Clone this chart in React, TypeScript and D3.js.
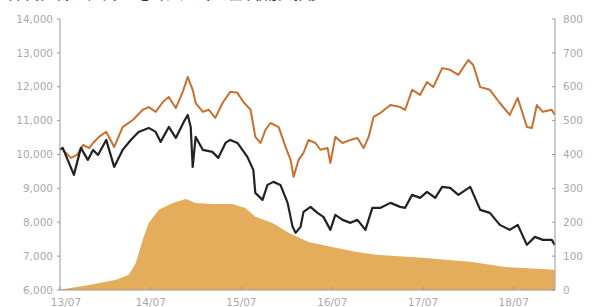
import React from 'react'
import * as d3 from 'd3'

// black line (left axis)
const blackDates = ['2013-07-01', '2013-07-12', '2013-08-26', '2013-09-23', '2013-10-21', '2013-11-11', '2013-12-01', '2014-01-03', '2014-02-04', '2014-03-10', '2014-04-12', '2014-05-13', '2014-06-23', '2014-07-21', '2014-08-10', '2014-09-12', '2014-10-10', '2014-11-11', '2014-11-27', '2014-12-09', '2014-12-17', '2014-12-29', '2015-01-27', '2015-03-06', '2015-03-30', '2015-04-28', '2015-05-17', '2015-06-15', '2015-07-25', '2015-08-18', '2015-08-26', '2015-09-24', '2015-10-14', '2015-11-07', '2015-12-05', '2016-01-03', '2016-01-23', '2016-02-04', '2016-02-24', '2016-03-07', '2016-04-04', '2016-05-02', '2016-05-26', '2016-06-23', '2016-07-13', '2016-08-11', '2016-09-12', '2016-10-10', '2016-11-11', '2016-12-09', '2017-01-11', '2017-02-20', '2017-03-31', '2017-04-20', '2017-05-18', '2017-06-19', '2017-07-17', '2017-08-19', '2017-09-16', '2017-10-18', '2017-11-20', '2018-01-07', '2018-02-16', '2018-03-27', '2018-05-06', '2018-06-15', '2018-07-17', '2018-08-23', '2018-09-24', '2018-10-26', '2018-12-01', '2018-12-13']
const blackValues = [10150, 10195, 9398, 10195, 9840, 10135, 9988, 10430, 9634, 10135, 10430, 10667, 10785, 10667, 10372, 10814, 10490, 10962, 11168, 10814, 9634, 10519, 10135, 10077, 9900, 10342, 10430, 10342, 9929, 9545, 8867, 8660, 9103, 9192, 9103, 8572, 7864, 7687, 7864, 8307, 8454, 8277, 8159, 7775, 8218, 8070, 7982, 8070, 7775, 8425, 8425, 8572, 8454, 8425, 8808, 8720, 8897, 8720, 9044, 9015, 8808, 9044, 8366, 8277, 7923, 7775, 7923, 7333, 7569, 7480, 7480, 7333]

// orange line (right axis)
const orangeDates = ['2013-07-12', '2013-08-14', '2013-09-08', '2013-10-02', '2013-10-26', '2013-11-15', '2013-12-05', '2014-01-03', '2014-02-04', '2014-03-10', '2014-04-20', '2014-05-30', '2014-06-23', '2014-07-21', '2014-08-19', '2014-09-12', '2014-10-10', '2014-11-07', '2014-11-27', '2014-12-17', '2014-12-29', '2015-01-27', '2015-02-20', '2015-03-18', '2015-04-16', '2015-05-17', '2015-06-15', '2015-07-09', '2015-08-07', '2015-08-26', '2015-09-16', '2015-10-06', '2015-10-26', '2015-11-28', '2015-12-26', '2016-01-15', '2016-01-27', '2016-02-16', '2016-03-07', '2016-03-27', '2016-04-24', '2016-05-14', '2016-06-12', '2016-06-23', '2016-07-13', '2016-08-11', '2016-09-12', '2016-10-10', '2016-11-04', '2016-11-24', '2016-12-14', '2017-01-11', '2017-02-20', '2017-03-31', '2017-04-20', '2017-05-18', '2017-06-19', '2017-07-17', '2017-08-11', '2017-09-16', '2017-10-18', '2017-11-20', '2017-12-30', '2018-01-19', '2018-02-16', '2018-03-27', '2018-05-06', '2018-06-15', '2018-07-17', '2018-08-23', '2018-09-12', '2018-10-02', '2018-10-26', '2018-12-01', '2018-12-13']
const orangeValues = [414, 390, 399, 428, 419, 437, 452, 467, 422, 481, 502, 532, 540, 526, 555, 570, 537, 585, 629, 591, 552, 526, 532, 508, 552, 585, 582, 555, 532, 452, 434, 473, 493, 481, 422, 384, 334, 384, 405, 443, 434, 414, 419, 375, 452, 434, 443, 449, 419, 452, 511, 523, 546, 540, 532, 591, 576, 614, 599, 655, 650, 635, 679, 664, 599, 591, 552, 517, 567, 481, 478, 546, 526, 532, 517]

// filled area (right axis)
const areaDates = ['2013-07-01', '2013-07-12', '2013-10-26', '2014-02-12', '2014-04-04', '2014-05-02', '2014-05-30', '2014-06-23', '2014-08-03', '2014-09-28', '2014-11-19', '2014-12-29', '2015-03-06', '2015-05-25', '2015-07-17', '2015-08-26', '2015-11-03', '2016-01-07', '2016-03-27', '2016-07-01', '2016-10-02', '2016-12-22', '2017-06-28', '2018-01-15', '2018-05-26', '2018-12-13']
const areaValues = [0, 2, 15, 30, 45, 80, 148, 198, 237, 257, 269, 257, 254, 254, 242, 216, 198, 169, 142, 127, 113, 104, 95, 83, 68, 60]

const xTickDates = ['2013-07-01', '2014-07-01', '2015-07-01', '2016-07-01', '2017-07-01', '2018-07-01']
const xTickLabels = ['13/07', '14/07', '15/07', '16/07', '17/07', '18/07']
const leftTicks = [6000, 7000, 8000, 9000, 10000, 11000, 12000, 13000, 14000]
const rightTicks = [0, 100, 200, 300, 400, 500, 600, 700, 800]

const title = '日本株式インデックスと当ファンドの基準価額の推移'

const W = 599
const H = 307
const parse = d3.timeParse('%Y-%m-%d')

const App = () => {
    const x = d3.scaleTime()
        .domain([parse('2013-07-01'), parse('2018-12-14')])
        .range([60, 555])
    const yL = d3.scaleLinear().domain([6000, 14000]).range([290, 19])
    const yR = d3.scaleLinear().domain([0, 800]).range([290, 19])

    const black = blackDates.map((d, i) => ({ date: parse(d), v: blackValues[i] }))
    const orange = orangeDates.map((d, i) => ({ date: parse(d), v: orangeValues[i] }))
    const area = areaDates.map((d, i) => ({ date: parse(d), v: areaValues[i] }))

    const blackLine = d3.line().x(d => x(d.date)).y(d => yL(d.v))
    const orangeLine = d3.line().x(d => x(d.date)).y(d => yR(d.v))
    const areaShape = d3.area().x(d => x(d.date)).y0(yR(0)).y1(d => yR(d.v))
    const fmt = d3.format(',')

    return (
        <svg width={W} height={H} style={{ position: 'absolute', left: 0, top: 0, background: '#fff' }}
            fontFamily="'DejaVu Sans', sans-serif">
            {/* title, cut off at the top edge as in the source */}
            <text x={8} y={-1} fontSize={13} fontWeight='bold' fill='#333'>{title}</text>
            <path d={areaShape(area)} fill='#e3ad5c' />
            <path d={orangeLine(orange)} fill='none' stroke='#c8702f' strokeWidth={2} strokeLinejoin='round' />
            <path d={blackLine(black)} fill='none' stroke='#222' strokeWidth={2.2} strokeLinejoin='round' />
            {/* left axis */}
            <line x1={60} x2={60} y1={19} y2={290} stroke='#999' />
            {
                leftTicks.map(t => (
                    <g key={t}>
                        <line x1={57} x2={60} y1={yL(t)} y2={yL(t)} stroke='#999' />
                        <text x={53} y={yL(t)} dy='0.35em' textAnchor='end' fontSize={10.5} fill='#aaa'>{fmt(t)}</text>
                    </g>
                ))
            }
            {/* right axis */}
            <line x1={555} x2={555} y1={19} y2={290} stroke='#999' />
            {
                rightTicks.map(t => (
                    <g key={t}>
                        <line x1={552} x2={555} y1={yR(t)} y2={yR(t)} stroke='#999' />
                        <text x={563} y={yR(t)} dy='0.35em' fontSize={10.5} fill='#aaa'>{t}</text>
                    </g>
                ))
            }
            {/* x axis */}
            <line x1={60} x2={555} y1={290} y2={290} stroke='#999' />
            {
                xTickDates.map((d, i) => (
                    <g key={d}>
                        <line x1={x(parse(d))} x2={x(parse(d))} y1={287} y2={290} stroke='#999' />
                        <text x={x(parse(d)) + (i === 0 ? 6 : 0)} y={306} textAnchor='middle' fontSize={10.5} fill='#aaa'>{xTickLabels[i]}</text>
                    </g>
                ))
            }
        </svg>
    )
}

export default App
